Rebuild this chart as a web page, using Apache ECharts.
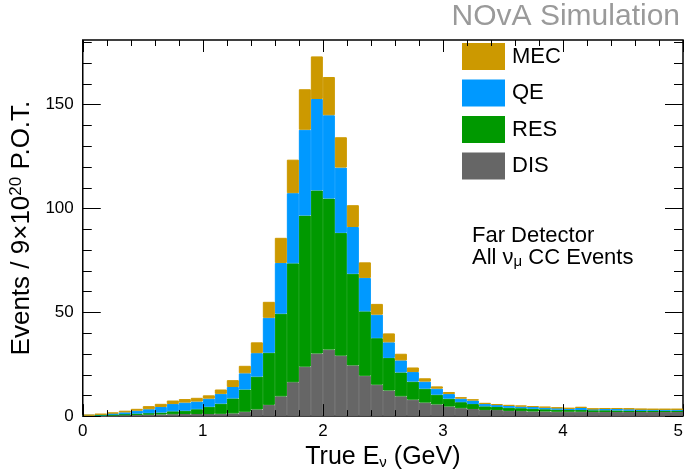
<!DOCTYPE html>
<html>
<head>
<meta charset="utf-8">
<script src="https://cdn.jsdelivr.net/npm/echarts@6/dist/echarts.min.js"></script>
<style>
html,body{margin:0;padding:0;background:#fff;}
#c{width:686px;height:475px;}
</style>
</head>
<body>
<div id="c"></div>
<script>
// Bin lower edges (GeV), bin width 0.1
const binLow = ["0.0","0.1","0.2","0.3","0.4","0.5","0.6","0.7","0.8","0.9",
  "1.0","1.1","1.2","1.3","1.4","1.5","1.6","1.7","1.8","1.9",
  "2.0","2.1","2.2","2.3","2.4","2.5","2.6","2.7","2.8","2.9",
  "3.0","3.1","3.2","3.3","3.4","3.5","3.6","3.7","3.8","3.9",
  "4.0","4.1","4.2","4.3","4.4","4.5","4.6","4.7","4.8","4.9"];

// Per-component events per bin (stacked: DIS bottom, then RES, QE, MEC)
const disValues = [0.2,0.3,0.4,0.5,0.6,0.7,0.8,0.9,1.0,1.0,
  1.0,1.1,1.3,2.1,3.2,5.4,9.5,16.3,23.8,30.1,
  32.0,29.1,24.4,19.4,15.1,12.3,9.5,7.9,6.5,5.6,
  4.6,3.8,3.4,2.9,2.9,2.5,2.4,2.2,2.2,2.1,
  2.1,2.1,2.0,2.0,2.0,2.0,2.0,2.0,2.0,2.0];
const resValues = [0.1,0.2,0.3,0.4,0.6,0.7,0.9,1.4,1.6,2.3,
  3.5,4.9,7.2,10.7,15.8,25.1,39.8,57.2,72.7,78.5,
  72.7,59.1,44.1,31.0,22.4,15.7,11.5,8.7,6.7,4.7,
  3.8,2.9,2.4,1.8,1.5,1.5,1.4,1.3,1.1,1.0,
  0.9,0.8,0.8,0.8,0.7,0.6,0.5,0.6,0.6,0.6];
const qeValues = [0.1,0.3,0.6,0.9,1.4,1.9,2.7,3.5,3.9,3.7,
  3.9,4.7,5.5,7.8,11.3,16.8,24.4,33.8,41.3,44.0,
  40.1,31.4,22.5,16.1,11.3,7.5,5.8,4.6,3.4,2.9,
  2.2,1.7,1.7,1.1,0.9,0.9,0.8,0.9,0.8,0.7,
  0.6,1.0,0.6,0.6,0.7,0.7,0.8,0.6,0.6,0.6];
const mecValues = [0.1,0.2,0.4,0.8,0.9,1.5,1.5,1.7,1.7,1.8,
  1.6,2.1,3.3,3.6,5.2,7.7,12.1,16.1,19.5,20.5,
  18.4,14.6,10.5,7.5,5.2,4.3,3.2,2.2,1.6,1.1,
  1.0,0.7,0.6,0.6,0.5,0.5,0.5,0.4,0.4,0.4,
  0.3,0.6,0.2,0.5,0.5,0.5,0.1,0.2,0.2,0.2];

const seriesNames = ["DIS","RES","QE","MEC"];
const legendOrder = ["MEC","QE","RES","DIS"];
const seriesColors = {DIS:"#666666", RES:"#009900", QE:"#0099ff", MEC:"#cc9900"};

// Tick positions (axis units)
const xMajorTicks = [0,1,2,3,4,5];
const xMinorTicks = [0.2,0.4,0.6,0.8,1.2,1.4,1.6,1.8,2.2,2.4,2.6,2.8,3.2,3.4,3.6,3.8,4.2,4.4,4.6,4.8];
const yMajorTicks = [0,50,100,150];
const yMinorTicks = [10,20,30,40,60,70,80,90,110,120,130,140,160,170,180];

const FONT = "Liberation Sans, Arial, Helvetica, sans-serif";
const chart = echarts.init(document.getElementById('c'), null, {renderer:'canvas'});

const dataMap = {DIS:disValues, RES:resValues, QE:qeValues, MEC:mecValues};
const series = seriesNames.map(n => ({
  name: n, type: 'bar', stack: 'all', data: dataMap[n],
  xAxisIndex: 0, yAxisIndex: 0,
  barCategoryGap: '0%', barGap: '0%',
  itemStyle: {color: seriesColors[n], borderColor: seriesColors[n], borderWidth: 1},
  emphasis: {disabled: true}, animation: false
}));

const yMax = 181;
const tickStyle = {stroke: '#000', lineWidth: 1};

// Inward ticks on all four frame sides, positioned through the axes' scales
series.push({
  name: 'xTicks', type: 'custom', xAxisIndex: 1, yAxisIndex: 0, clip: false, silent: true, z: 10,
  encode: {x: 0, y: 1},
  data: xMajorTicks.map(v => [v, 1]).concat(xMinorTicks.map(v => [v, 0])),
  renderItem: function (params, api) {
    const p = api.coord([api.value(0), 0]);
    const cs = params.coordSys;
    const len = api.value(1) ? 12 : 6;
    const x = Math.round(p[0]) + 0.5;
    const yb = cs.y + cs.height, yt = cs.y;
    return {type: 'group', children: [
      {type: 'line', shape: {x1: x, y1: yb, x2: x, y2: yb - len}, style: tickStyle},
      {type: 'line', shape: {x1: x, y1: yt, x2: x, y2: yt + len}, style: tickStyle}
    ]};
  }
});
series.push({
  name: 'yTicks', type: 'custom', xAxisIndex: 1, yAxisIndex: 0, clip: false, silent: true, z: 10,
  encode: {x: 1, y: 0},
  data: yMajorTicks.map(v => [v, 1]).concat(yMinorTicks.map(v => [v, 0])),
  renderItem: function (params, api) {
    const p = api.coord([0, api.value(0)]);
    const cs = params.coordSys;
    const len = api.value(1) ? 18 : 9;
    const y = Math.round(p[1]) + 0.5;
    const xl = cs.x, xr = cs.x + cs.width;
    return {type: 'group', children: [
      {type: 'line', shape: {x1: xl, y1: y, x2: xl + len, y2: y}, style: tickStyle},
      {type: 'line', shape: {x1: xr, y1: y, x2: xr - len, y2: y}, style: tickStyle}
    ]};
  }
});

chart.setOption({
  animation: false,
  backgroundColor: '#fff',
  grid: {left: 80, right: 3, top: 40, bottom: 51, show: true, borderColor: '#000', borderWidth: 1.5, backgroundColor: 'transparent', containLabel: false},
  legend: {
    data: legendOrder, orient: 'vertical', left: 462, top: 43, padding: 0,
    itemWidth: 43, itemHeight: 27, itemGap: 9.5, icon: 'rect',
    itemStyle: {borderWidth: 0},
    textStyle: {fontSize: 22, fontFamily: FONT, color: '#000', padding: [0,0,0,2]},
    selectedMode: false
  },
  xAxis: [
    {type: 'category', data: binLow, show: false, boundaryGap: true},
    {
      type: 'value', position: 'bottom', min: 0, max: 5, interval: 1,
      axisLine: {show: false}, splitLine: {show: false}, axisTick: {show: false},
      axisLabel: {show: true, color: '#000', fontSize: 17, fontFamily: FONT, margin: 7, alignMaxLabel: 'right'},
      name: '{a|True E}{s|ν}{a| (GeV)}', nameLocation: 'middle', nameGap: 20,
      nameTextStyle: {rich: {
        a: {fontSize: 25, fontFamily: FONT, color: '#000'},
        s: {fontSize: 15, fontFamily: FONT, color: '#000', verticalAlign: 'bottom', padding: [8,0,0,0]}
      }}
    }
  ],
  yAxis: [
    {
      type: 'value', position: 'left', min: 0, max: yMax, interval: 50,
      axisLine: {show: false}, splitLine: {show: false}, axisTick: {show: false},
      axisLabel: {show: true, color: '#000', fontSize: 17, fontFamily: FONT, margin: 9, showMaxLabel: false},
      name: '{a|Events / 9×10}{s|20}{a| P.O.T.}', nameLocation: 'middle', nameGap: 33, nameRotate: 90,
      nameTextStyle: {rich: {
        a: {fontSize: 26, fontFamily: FONT, color: '#000'},
        s: {fontSize: 17, fontFamily: FONT, color: '#000', verticalAlign: 'top', padding: [0,0,10,0]}
      }}
    }
  ],
  graphic: [
    {type: 'text', right: 6, top: 2, style: {text: 'NOvA Simulation', fontSize: 30, fontFamily: FONT, fill: '#9a9a9a'}},
    {type: 'text', left: 472, top: 225, style: {text: 'Far Detector', fontSize: 22, fontFamily: FONT, fill: '#000'}},
    {type: 'text', left: 472, top: 247, style: {
      text: '{a|All ν}{s|μ}{a| CC Events}',
      rich: {
        a: {fontSize: 22, fontFamily: FONT, fill: '#000'},
        s: {fontSize: 15, fontFamily: FONT, fill: '#000', verticalAlign: 'bottom', padding: [8,0,0,0]}
      }
    }}
  ],
  series: series
});
</script>
</body>
</html>
